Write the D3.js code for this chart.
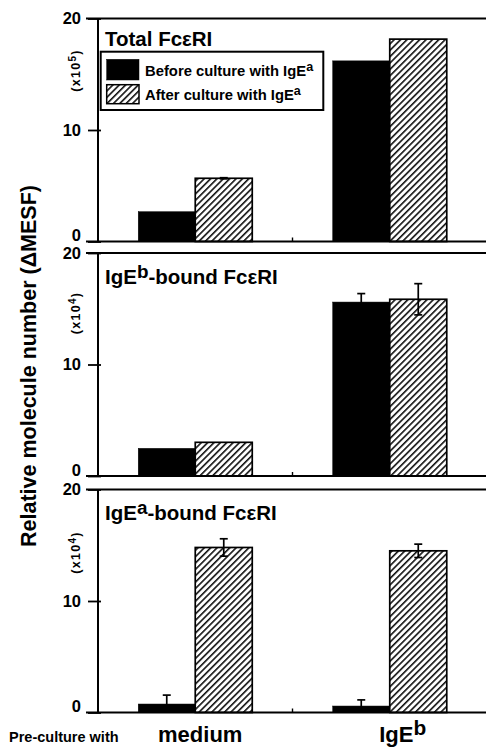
<!DOCTYPE html>
<html>
<head>
<meta charset="utf-8">
<script src="https://cdn.jsdelivr.net/npm/d3@7"></script>
<style>
  html, body { margin: 0; padding: 0; background: #fff; }
  svg { display: block; }
  text { font-family: "Liberation Sans", Arial, Helvetica, sans-serif; font-weight: bold; fill: #000; }
</style>
</head>
<body>
<svg id="chart" width="486" height="748"></svg>
<script>
// ---------- data ----------
const categories = ["medium", "IgE^b"];
const seriesNames = ["Before culture with IgE^a", "After culture with IgE^a"];
const panelTitles = ["Total FcεRI", "IgE^b-bound FcεRI", "IgE^a-bound FcεRI"];
const scaleLabels = ["(x10^5)", "(x10^4)", "(x10^4)"];
const yTicks = [0, 10, 20];

const totalBefore = [2.67, 16.2];
const totalAfter = [5.67, 18.15];
const totalBeforeErr = [0, 0];
const totalAfterErr = [0.05, 0];

const igEbBefore = [2.48, 15.6];
const igEbAfter = [3.02, 15.85];
const igEbBeforeErr = [0, 0.76];
const igEbAfterErr = [0, 1.4];

const igEaBefore = [0.76, 0.58];
const igEaAfter = [14.8, 14.5];
const igEaBeforeErr = [0.8, 0.55];
const igEaAfterErr = [0.78, 0.6];

const yTitle = "Relative molecule number (ΔMESF)";
const xPrefix = "Pre-culture with";

// ---------- layout ----------
const svg = d3.select("#chart");
const W = 486, H = 748;
const axisX = 98, rightX = 487;
const panelTops = [18.5, 253, 489.5];
const panelH = 223;
const titleOffsets = [27, 31, 30];
const scaleOffsets = [52, 60, 63];

const panels = [
  { title: panelTitles[0], scale: scaleLabels[0], values: [totalBefore, totalAfter], errs: [totalBeforeErr, totalAfterErr] },
  { title: panelTitles[1], scale: scaleLabels[1], values: [igEbBefore, igEbAfter], errs: [igEbBeforeErr, igEbAfterErr] },
  { title: panelTitles[2], scale: scaleLabels[2], values: [igEaBefore, igEaAfter], errs: [igEaBeforeErr, igEaAfterErr] }
];

// hatch pattern
const defs = svg.append("defs");
defs.append("pattern")
  .attr("id", "hatch")
  .attr("patternUnits", "userSpaceOnUse")
  .attr("width", 4.5).attr("height", 10)
  .attr("patternTransform", "rotate(45)")
  .call(p => {
    p.append("rect").attr("width", 4.5).attr("height", 10).attr("fill", "#fff");
    p.append("line").attr("x1", 0.8).attr("x2", 0.8).attr("y1", 0).attr("y2", 10)
      .attr("stroke", "#000").attr("stroke-width", 1.5);
  });

// rich text with ^x superscripts
function rich(sel, str, supScale, supRaise) {
  const parts = str.split(/\^([A-Za-z0-9])/);
  const fs = parseFloat(sel.style("font-size"));
  parts.forEach((p, i) => {
    if (p === "") return;
    if (i % 2 === 1) {
      sel.append("tspan").attr("font-size", fs * supScale).attr("dy", -supRaise).text(p);
    } else {
      const t = sel.append("tspan").text(p);
      if (i > 0) t.attr("dy", supRaise);
    }
  });
}

const x0 = d3.scaleBand().domain(categories).range([axisX, rightX]);
const x1 = d3.scaleBand().domain(seriesNames).range([0, x0.bandwidth()]).paddingOuter(0.706).paddingInner(0);

panels.forEach((pn, pi) => {
  const top = panelTops[pi];
  const y = d3.scaleLinear().domain([0, 20]).range([top + panelH, top]);
  const g = svg.append("g");

  // bars
  seriesNames.forEach((s, si) => {
    g.selectAll(null).data(categories).enter().append("rect")
      .attr("x", c => x0(c) + x1(s))
      .attr("y", (c, ci) => y(pn.values[si][ci]))
      .attr("width", x1.bandwidth())
      .attr("height", (c, ci) => y(0) - y(pn.values[si][ci]))
      .attr("fill", si === 0 ? "#000" : "url(#hatch)")
      .attr("stroke", "#000")
      .attr("stroke-width", si === 0 ? 0.5 : 1.7);
  });

  // error bars
  seriesNames.forEach((s, si) => {
    categories.forEach((c, ci) => {
      const e = pn.errs[si][ci];
      if (!e) return;
      const v = pn.values[si][ci];
      const cx = x0(c) + x1(s) + x1.bandwidth() / 2;
      g.append("line").attr("x1", cx).attr("x2", cx)
        .attr("y1", y(v + e)).attr("y2", y(Math.max(0, v - e)))
        .attr("stroke", "#000").attr("stroke-width", 1.7);
      [v + e, v - e].forEach(val => {
        if (val < 0) return;
        g.append("line").attr("x1", cx - 4).attr("x2", cx + 4)
          .attr("y1", y(val)).attr("y2", y(val))
          .attr("stroke", "#000").attr("stroke-width", 1.7);
      });
    });
  });

  // y axis with ticks
  const ax = g.append("g").attr("transform", `translate(${axisX},0)`)
    .call(d3.axisLeft(y).tickValues(yTicks).tickSize(10).tickPadding(7).tickFormat(d3.format("d")));
  ax.select(".domain").remove();
  ax.selectAll(".tick line").attr("x2", -10).attr("x1", 3).attr("stroke", "#000").attr("stroke-width", 1.8);
  ax.selectAll(".tick text")
    .style("font-size", "16.5px").style("font-weight", "bold")
    .attr("fill", "#000")
    .attr("dy", d => d === 0 ? "-0.05em" : "0.32em");

  g.append("line").attr("x1", axisX).attr("x2", axisX).attr("y1", y(20)).attr("y2", y(0))
    .attr("stroke", "#000").attr("stroke-width", 2);
  [0, 20].forEach(v => {
    g.append("line").attr("x1", 86).attr("x2", W).attr("y1", y(v)).attr("y2", y(v))
      .attr("stroke", "#000").attr("stroke-width", 2);
  });
  // category separator tick
  g.append("line").attr("x1", x0(categories[1])).attr("x2", x0(categories[1]))
    .attr("y1", y(0)).attr("y2", y(0) - 4).attr("stroke", "#000").attr("stroke-width", 1.4);

  // panel title
  const tt = g.append("text").attr("x", 105).attr("y", top + titleOffsets[pi]).style("font-size", "20.5px");
  rich(tt, pn.title, 0.92, 6);

  // scale label
  const sl = g.append("text")
    .attr("transform", `translate(80,${top + scaleOffsets[pi]}) rotate(-90)`)
    .attr("text-anchor", "middle").style("font-size", "12.5px").style("letter-spacing", "1.3px");
  rich(sl, pn.scale, 0.8, 4);
});

// legend
const lg = svg.append("g").attr("transform", `translate(0,${panelTops[0]})`);
lg.append("rect").attr("x", 100.7).attr("y", 33.2).attr("width", 222.6).attr("height", 58.3)
  .attr("fill", "#fff").attr("stroke", "#000").attr("stroke-width", 2);
seriesNames.forEach((s, si) => {
  const yy = 33.2 + (si === 0 ? 7.6 : 33);
  lg.append("rect").attr("x", 106.7).attr("y", yy).attr("width", 32.3).attr("height", si === 0 ? 20.7 : 19)
    .attr("fill", si === 0 ? "#000" : "url(#hatch)")
    .attr("stroke", "#000").attr("stroke-width", si === 0 ? 0.5 : 1.5);
  const t = lg.append("text").attr("x", 145).attr("y", si === 0 ? 57.5 : 81.5).style("font-size", "14.8px");
  rich(t, s, 0.85, 5);
});

// y title
svg.append("text")
  .attr("transform", "translate(36,366) rotate(-90)")
  .attr("text-anchor", "middle").style("font-size", "21.5px")
  .text(yTitle);

// x labels
const xLabelShift = [5, 13];
categories.forEach((c, ci) => {
  const t = svg.append("text")
    .attr("x", x0(c) + x0.bandwidth() / 2 + xLabelShift[ci]).attr("y", 742)
    .attr("text-anchor", "middle").style("font-size", "22px");
  rich(t, c, 0.95, 7);
});
svg.append("text").attr("x", 9).attr("y", 742).style("font-size", "14.5px").text(xPrefix);
</script>
</body>
</html>
